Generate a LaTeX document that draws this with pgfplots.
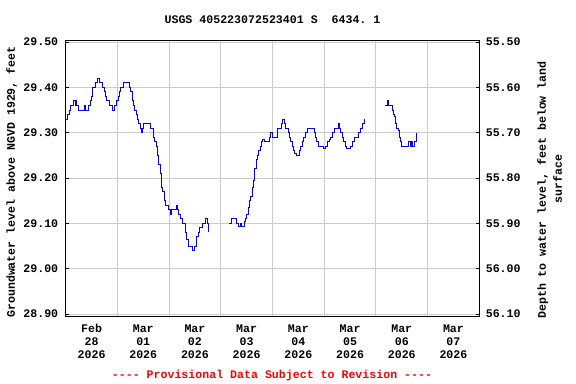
\documentclass[border=0pt]{standalone}
\usepackage{pgfplots}
\pgfplotsset{compat=1.18}
\usepackage{fontspec}
\setmainfont{Liberation Mono}[Ligatures=TeXOff]
\newcommand\f{\fontsize{11.6bp}{13bp}\selectfont\bfseries}
\definecolor{gridgray}{RGB}{204,204,204}
\definecolor{usgsblue}{RGB}{0,0,255}
\definecolor{usgsred}{RGB}{255,0,0}
\pgfplotstableread{
d v
0.000 29.33
0.032 29.34
0.070 29.35
0.096 29.36
0.148 29.37
0.186 29.36
0.199 29.37
0.212 29.36
0.251 29.35
0.354 29.36
0.380 29.35
0.444 29.36
0.470 29.37
0.496 29.38
0.509 29.39
0.522 29.40
0.573 29.41
0.612 29.42
0.651 29.41
0.715 29.40
0.741 29.39
0.767 29.38
0.792 29.37
0.844 29.36
0.896 29.35
0.934 29.36
0.973 29.37
1.012 29.38
1.037 29.39
1.063 29.40
1.115 29.41
1.231 29.40
1.257 29.39
1.282 29.37
1.308 29.36
1.334 29.35
1.360 29.34
1.386 29.33
1.411 29.32
1.437 29.31
1.463 29.30
1.476 29.31
1.502 29.32
1.631 29.31
1.695 29.29
1.721 29.28
1.747 29.27
1.772 29.25
1.798 29.23
1.824 29.21
1.850 29.18
1.876 29.17
1.901 29.15
1.927 29.14
1.992 29.13
2.017 29.12
2.043 29.13
2.146 29.14
2.159 29.13
2.185 29.12
2.224 29.11
2.250 29.10
2.314 29.08
2.340 29.065
2.366 29.05
2.456 29.04
2.482 29.05
2.520 29.07
2.559 29.08
2.585 29.09
2.636 29.10
2.701 29.11
2.740 29.10
2.765 29.08
}\segA
\pgfplotstableread{
d v
3.165 29.10
3.204 29.11
3.294 29.11
3.307 29.10
3.346 29.093
3.372 29.10
3.397 29.093
3.449 29.104
3.475 29.11
3.500 29.12
3.526 29.135
3.552 29.15
3.578 29.16
3.604 29.18
3.629 29.195
3.655 29.22
3.681 29.24
3.707 29.25
3.733 29.26
3.758 29.27
3.784 29.28
3.810 29.285
3.836 29.28
3.914 29.28
3.939 29.29
3.965 29.30
3.991 29.29
4.068 29.29
4.094 29.31
4.171 29.32
4.197 29.33
4.223 29.32
4.249 29.31
4.300 29.30
4.326 29.29
4.352 29.28
4.377 29.27
4.403 29.26
4.429 29.255
4.455 29.25
4.494 29.25
4.519 29.26
4.545 29.27
4.571 29.28
4.597 29.29
4.635 29.30
4.674 29.31
4.777 29.31
4.803 29.30
4.829 29.29
4.855 29.28
4.880 29.27
4.958 29.27
4.984 29.265
5.022 29.27
5.061 29.28
5.100 29.285
5.126 29.29
5.164 29.30
5.203 29.31
5.267 29.32
5.293 29.31
5.319 29.30
5.345 29.29
5.371 29.28
5.409 29.27
5.435 29.265
5.500 29.27
5.538 29.28
5.577 29.29
5.654 29.30
5.693 29.31
5.732 29.32
5.770 29.33
5.796 29.33
}\segB
\pgfplotstableread{
d v
6.182 29.36
6.221 29.37
6.234 29.36
6.299 29.36
6.324 29.35
6.337 29.34
6.363 29.335
6.376 29.32
6.402 29.31
6.428 29.305
6.454 29.29
6.467 29.28
6.492 29.27
6.634 29.28
6.660 29.27
6.686 29.28
6.699 29.27
6.750 29.28
6.776 29.29
6.789 29.30
}\segC
\begin{document}
\begin{tikzpicture}
\useasboundingbox (0,0) rectangle (576bp,384bp);
\begin{axis}[
  at={(65.7bp,68bp)}, anchor=south west,
  scale only axis, width=413.6bp, height=276bp,
  xmin=0, xmax=8, ymin=28.8956, ymax=29.5044,
  axis line style={black, line width=0.8bp},
  xtick={0.5,1.5,2.5,3.5,4.5,5.5,6.5,7.5},
  xticklabels={Feb\\28\\2026, Mar\\01\\2026, Mar\\02\\2026, Mar\\03\\2026, Mar\\04\\2026, Mar\\05\\2026, Mar\\06\\2026, Mar\\07\\2026},
  xticklabel style={align=center, font=\f, yshift=-5bp},
  xtick style={draw=none},
  minor xtick={1,2,3,4,5,6,7},
  xminorgrids=true,
  minor x tick style={draw=none},
  ytick={28.9,29.0,29.1,29.2,29.3,29.4,29.5},
  ymajorgrids=true,
  ytick pos=left,
  yticklabel style={font=\f, xshift=-4bp},
  major tick length=3bp,
  tick style={black, line width=0.6bp},
  grid style={gridgray, line width=0.9bp},
  /pgf/number format/.cd, fixed, fixed zerofill, precision=2, assume math mode=true,
]
\addplot[const plot, usgsblue, line width=0.9bp] table[x=d, y=v] {\segA};
\addplot[const plot, usgsblue, line width=0.9bp] table[x=d, y=v] {\segB};
\addplot[const plot, usgsblue, line width=0.9bp] table[x=d, y=v] {\segC};
\end{axis}
\begin{axis}[
  at={(65.7bp,68bp)}, anchor=south west,
  scale only axis, width=413.6bp, height=276bp,
  xmin=0, xmax=8, y dir=reverse,
  ymin=55.4956, ymax=56.1044,
  axis x line=none, axis y line*=right,
  axis line style={black, line width=0.8bp},
  ytick={55.5,55.6,55.7,55.8,55.9,56.0,56.1},
  yticklabel style={font=\f, xshift=3bp},
  major tick length=3bp,
  tick style={black, line width=0.6bp},
  /pgf/number format/.cd, fixed, fixed zerofill, precision=2, assume math mode=true,
]
\end{axis}
\node[font=\f] at (272.5bp,364bp) {USGS 405223072523401 S\ \ 6434.\ 1};
\node[font=\f, rotate=90] at (11.7bp,202bp) {Groundwater level above NGVD 1929, feet};
\node[font=\f, rotate=90] at (542.7bp,194bp) {Depth to water level, feet below land};
\node[font=\f, rotate=90] at (557.7bp,205bp) {surface};
\node[font=\f, text=usgsred] at (272bp,8bp) {---- Provisional Data Subject to Revision ----};
\end{tikzpicture}
\end{document}
